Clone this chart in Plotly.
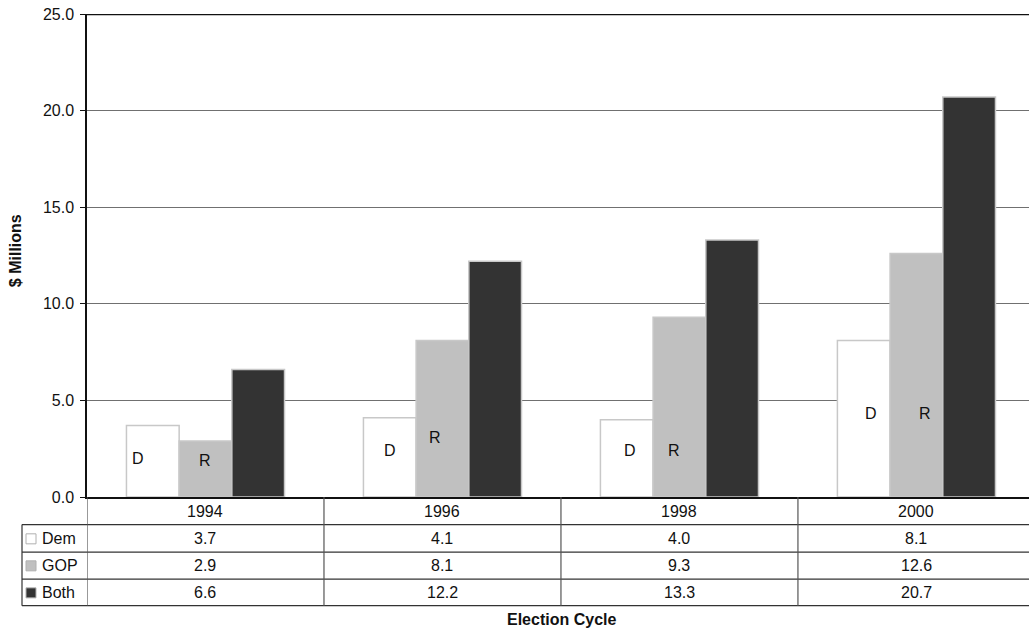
import plotly.graph_objects as go

years = ["1994", "1996", "1998", "2000"]
dem = [3.7, 4.1, 4.0, 8.1]
gop = [2.9, 8.1, 9.3, 12.6]
both = [6.6, 12.2, 13.3, 20.7]
series_names = ["Dem", "GOP", "Both"]
series_colors = ["#ffffff", "#c0c0c0", "#333333"]
y_ticks = [0, 5, 10, 15, 20, 25]
y_ticklabels = ["0.0", "5.0", "10.0", "15.0", "20.0", "25.0"]
# in-bar letter labels
d_label_y = [2.0, 2.4, 2.4, 4.3]
r_label_y = [1.9, 3.1, 2.4, 4.3]
d_label_dx = [-0.285, -0.22, -0.21, -0.19]
r_label_dx = [0.0, -0.03, -0.025, 0.035]

W, H = 1029, 631
L, T, B = 87, 14, 496.7
PH = B - T
PW = W - L


def py(p):
    return (B - p) / PH


def px(p):
    return (p - L) / PW


FONT = "Liberation Sans, Arial, sans-serif"
FS = 16
fig = go.Figure()
for name, vals, col in zip(series_names, [dem, gop, both], series_colors):
    fig.add_trace(go.Bar(
        x=list(range(len(years))), y=vals, name=name,
        marker=dict(color=col, line=dict(color="#c8c8c8", width=1.5)),
        showlegend=False,
    ))

shapes = []
annotations = []
shapes.append(dict(type="line", xref="paper", yref="y", x0=0, x1=1, y0=25, y1=25,
                   line=dict(color="#111", width=2.5)))

row_lines = [524.3, 551.7, 578.7, 605.3]
for rp in row_lines:
    shapes.append(dict(type="line", xref="paper", yref="paper", x0=px(22), x1=1,
                       y0=py(rp), y1=py(rp), line=dict(color="#333", width=1.2)))
shapes.append(dict(type="line", xref="paper", yref="paper", x0=px(22), x1=px(22),
                   y0=py(524.3), y1=py(605.3), line=dict(color="#333", width=1.2)))
for i in range(len(years) + 1):
    shapes.append(dict(type="line", xref="x", yref="paper", x0=i - 0.5, x1=i - 0.5,
                       y0=0, y1=py(605.3), line=dict(color="#555", width=1.2)))

row_centers = [511, 538.5, 565.5, 592.5]


def txt(**kw):
    d = dict(showarrow=False, xanchor="center", yanchor="middle",
             font=dict(size=FS, color="#111", family=FONT))
    d.update(kw)
    return d


for i, yr in enumerate(years):
    annotations.append(txt(x=i, y=py(row_centers[0]), xref="x", yref="paper", text=yr))
    for r, vals in enumerate([dem, gop, both]):
        annotations.append(txt(x=i, y=py(row_centers[r + 1]), xref="x", yref="paper",
                               text=f"{vals[i]:.1f}"))
    annotations.append(txt(x=i + d_label_dx[i], y=d_label_y[i], xref="x", yref="y", text="D"))
    annotations.append(txt(x=i + r_label_dx[i], y=r_label_y[i], xref="x", yref="y", text="R"))

for r, (name, col) in enumerate(zip(series_names, series_colors)):
    c = row_centers[r + 1]
    shapes.append(dict(type="rect", xref="paper", yref="paper", x0=px(26), x1=px(36),
                       y0=py(c + 5), y1=py(c - 5), fillcolor=col,
                       line=dict(color="#b0b0b0", width=1)))
    annotations.append(txt(x=px(40), y=py(c), xref="paper", yref="paper", text=name,
                           xanchor="left"))

annotations.append(txt(x=px(561), y=py(619), xref="paper", yref="paper",
                       text="<b>Election Cycle</b>",
                       font=dict(size=16, color="#111", family=FONT)))
annotations.append(txt(x=px(15), y=py(251), xref="paper", yref="paper",
                       text="<b>$ Millions</b>", textangle=-90,
                       font=dict(size=16, color="#111", family=FONT)))

fig.update_layout(
    width=W, height=H,
    margin=dict(l=L, r=0, t=T, b=H - B, autoexpand=False),
    paper_bgcolor="white", plot_bgcolor="white",
    barmode="group", bargap=0.333, bargroupgap=0,
    xaxis=dict(range=[-0.5, 3.475], showticklabels=False, ticks="", showgrid=False,
               zeroline=False, showline=True, linecolor="#111", linewidth=2, fixedrange=True,
               automargin=False),
    yaxis=dict(range=[0, 25], tickvals=y_ticks, ticktext=y_ticklabels, ticks="outside",
               ticklen=5, tickcolor="#111", showline=True, linecolor="#111", linewidth=1.5,
               showgrid=True, gridcolor="#707070", gridwidth=1.3, zeroline=False,
               ticklabeloverflow="allow", ticklabelstandoff=3, automargin=False,
               tickfont=dict(size=FS, color="#111", family=FONT)),
    shapes=shapes, annotations=annotations,
    font=dict(family=FONT),
)
fig.write_html("out.html", config={"displayModeBar": False},
               post_script="document.body.style.margin='0';document.body.style.overflow='hidden';")
